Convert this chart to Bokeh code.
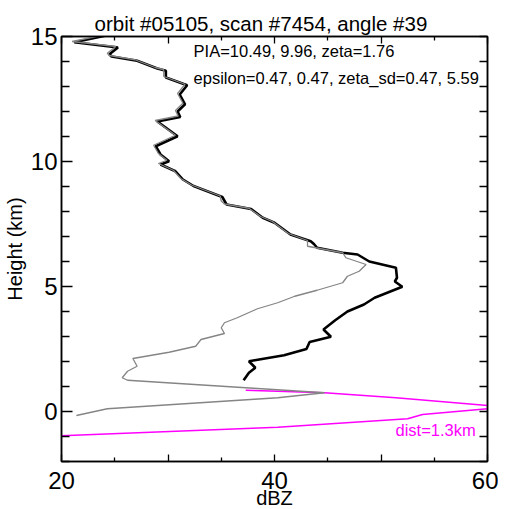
from bokeh.plotting import figure
from bokeh.models import Range1d, LinearAxis, FixedTicker, Label
from bokeh.embed import file_html
from bokeh.resources import INLINE

# ---- data ----
black_dbz = [24.3, 21.2, 25.3, 24.5, 24.7, 27.1, 29.0, 29.8, 29.8, 31.8, 31.1, 31.6, 30.9, 31.15,
             29.0, 30.9, 28.85, 29.3, 30.1, 29.3, 30.7, 31.4, 32.4, 35.1, 35.5, 37.8, 38.9, 40.0,
             41.5, 43.4, 43.7, 44.0, 46.4, 47.8, 48.9, 51.4, 51.5, 51.3, 52.0, 49.4, 48.4, 46.85,
             45.7, 44.6, 45.3, 43.3, 43.0, 40.9, 37.6, 38.2, 37.6, 37.1]
black_h = [15.05, 14.77, 14.56, 14.29, 14.2, 14.03, 13.72, 13.63, 13.36, 13.05, 12.68, 12.29, 12.0, 11.78,
           11.6, 11.01, 10.61, 10.28, 10.01, 9.88, 9.61, 9.28, 9.02, 8.58, 8.28, 8.1, 7.75, 7.55,
           7.08, 6.81, 6.7, 6.55, 6.35, 6.28, 6.0, 5.75, 5.35, 5.2, 4.99, 4.55, 4.28, 4.0,
           3.65, 3.28, 2.99, 2.78, 2.5, 2.25, 2.01, 1.75, 1.55, 1.25]

gray_dbz = [24.2, 21.0, 25.1, 24.3, 24.5, 26.9, 28.8, 29.6, 29.6, 31.6, 30.9, 31.4, 30.7, 30.95,
            28.8, 30.7, 28.65, 29.1, 29.9, 29.1, 30.5, 31.2, 32.2, 34.9, 35.0, 35.3, 37.6, 38.7,
            39.8, 41.3, 43.1, 43.1, 46.4, 46.7, 48.6, 47.95, 46.85, 46.4, 44.0, 41.9, 40.3, 38.4,
            36.5, 35.3, 35.0, 35.3, 33.1, 32.6, 30.1, 26.7, 27.1, 26.2, 25.7, 26.2, 44.7, 40.3,
            24.3, 21.4]
gray_h = [15.08, 14.8, 14.6, 14.33, 14.24, 14.07, 13.76, 13.67, 13.4, 13.09, 12.72, 12.33, 12.04, 11.82,
          11.64, 11.05, 10.65, 10.32, 10.05, 9.92, 9.65, 9.32, 9.06, 8.62, 8.42, 8.3, 8.13, 7.8,
          7.6, 7.12, 6.84, 6.61, 6.35, 6.15, 5.88, 5.61, 5.41, 5.15, 4.85, 4.61, 4.35, 4.11,
          3.75, 3.55, 3.35, 3.12, 2.88, 2.61, 2.37, 2.12, 1.81, 1.61, 1.35, 1.25, 0.75, 0.55,
          0.11, -0.16]

mag_upper_dbz = [37.3, 44.7, 51.4, 60.0]
mag_upper_h = [0.85, 0.75, 0.55, 0.24]
mag_lower_dbz = [20.0, 40.3, 52.5, 53.9, 60.0]
mag_lower_h = [-0.97, -0.63, -0.29, -0.12, 0.11]

x_major = [20, 30, 40, 50, 60]
x_minor = [25, 35, 45, 55]
x_labels = {20: "20", 30: "", 40: "40", 50: "", 60: "60"}
y_major = [0, 5, 10, 15]
y_minor = [-2, -1, 1, 2, 3, 4, 6, 7, 8, 9, 11, 12, 13, 14]

title_text = "orbit #05105, scan #7454, angle #39"
line1 = "PIA=10.49, 9.96, zeta=1.76"
line2 = "epsilon=0.47, 0.47, zeta_sd=0.47, 5.59"
dist_text = "dist=1.3km"

FONT = "Liberation Sans"

p = figure(frame_width=426, frame_height=425,
           x_range=Range1d(20, 60), y_range=Range1d(-2, 15),
           output_backend="svg", toolbar_location=None,
           x_axis_location=None, y_axis_location=None,
           min_border_left=58, min_border_right=11, min_border_top=36, min_border_bottom=32)
p.xgrid.visible = False
p.ygrid.visible = False
p.outline_line_color = "black"
p.outline_line_width = 1.5
p.background_fill_color = "white"
p.border_fill_color = "white"

p.title.text = title_text
p.title.text_font = FONT
p.title.text_font_size = "20.5px"
p.title.text_font_style = "normal"
p.title.text_color = "black"
p.title.align = "left"
p.title.offset = 33
p.title.standoff = 4


def style_axis(ax, major_in, minor_in):
    ax.axis_line_width = 1.5
    ax.axis_line_color = "black"
    ax.major_tick_in = major_in
    ax.major_tick_out = 0
    ax.minor_tick_in = minor_in
    ax.minor_tick_out = 0
    ax.major_tick_line_width = 1.3
    ax.minor_tick_line_width = 1.3
    ax.major_tick_line_color = "black"
    ax.minor_tick_line_color = "black"
    ax.major_label_text_font = FONT
    ax.major_label_text_font_size = "24px"
    ax.major_label_text_color = "black"
    ax.axis_label_text_font = FONT
    ax.axis_label_text_font_size = "20px"
    ax.axis_label_text_font_style = "normal"
    ax.axis_label_text_color = "black"


xb = LinearAxis(ticker=FixedTicker(ticks=x_major, minor_ticks=x_minor), axis_label="dBZ")
style_axis(xb, 7, 4)
xb.major_label_overrides = x_labels
xb.major_label_standoff = 10
xb.axis_label_standoff = -5
p.add_layout(xb, "below")

xt = LinearAxis(ticker=FixedTicker(ticks=x_major, minor_ticks=x_minor))
style_axis(xt, 7, 4)
xt.major_label_overrides = {t: "" for t in x_major}
xt.major_label_standoff = 0
p.add_layout(xt, "above")

yl = LinearAxis(ticker=FixedTicker(ticks=y_major, minor_ticks=y_minor), axis_label="Height (km)")
style_axis(yl, 11, 8)
yl.major_label_standoff = 4
yl.axis_label_standoff = 2
p.add_layout(yl, "left")

yr = LinearAxis(ticker=FixedTicker(ticks=y_major, minor_ticks=y_minor))
style_axis(yr, 8, 8)
yr.major_label_overrides = {t: "" for t in y_major}
yr.major_label_standoff = 0
p.add_layout(yr, "right")

p.line(mag_upper_dbz, mag_upper_h, line_color="#ff00ff", line_width=1.6)
p.line(mag_lower_dbz, mag_lower_h, line_color="#ff00ff", line_width=1.6)
p.line(black_dbz, black_h, line_color="black", line_width=2.6)
p.line(gray_dbz, gray_h, line_color="#858585", line_width=1.3)

p.add_layout(Label(x=32.4, y=14.44, text=line1, text_font=FONT, text_font_size="16.5px",
                   text_baseline="middle", text_color="black"))
p.add_layout(Label(x=32.4, y=13.36, text=line2, text_font=FONT, text_font_size="16.5px",
                   text_baseline="middle", text_color="black"))
p.add_layout(Label(x=51.36, y=-0.72, text=dist_text, text_font=FONT, text_font_size="16.5px",
                   text_baseline="middle", text_color="#ff00ff"))

open("out.html", "w").write(file_html(p, INLINE))
